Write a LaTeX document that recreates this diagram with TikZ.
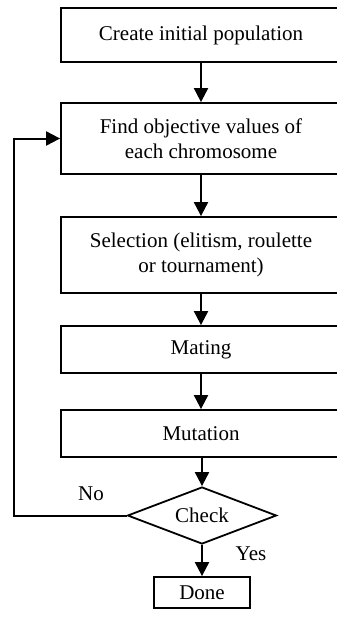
\documentclass[tikz,border=0pt]{standalone}
\usepackage{fontspec}
\setmainfont{Liberation Serif}
\usetikzlibrary{arrows.meta,shapes.geometric}
\tikzset{
  stepbox/.style={draw, line width=1.8pt, align=center, font=\fontsize{21}{25}\selectfont, inner sep=0pt, minimum width=280pt},
  check/.style={draw, diamond, line width=1.8pt, shape aspect=2.6, inner sep=0pt, minimum width=149pt, minimum height=57pt, font=\fontsize{21}{25}\selectfont},
  arr/.style={-{Triangle[length=14pt,width=14pt]}, line width=2pt},
  lbl/.style={font=\fontsize{21}{25}\selectfont},
}
\begin{document}
\begin{tikzpicture}[x=1pt,y=-1pt]
  \useasboundingbox (0,0) rectangle (337,619);
  \clip (0,0) rectangle (337,619);
  % process steps
  \node[stepbox, minimum height=54pt] (init) at (201,35) {Create initial population};
  \node[stepbox, minimum height=71pt] (eval) at (201,138.5) {Find objective values of\\each chromosome};
  \node[stepbox, minimum height=76pt] (sel) at (201,255) {Selection (elitism, roulette\\or tournament)};
  \node[stepbox, minimum height=47pt] (mate) at (201,349.5) {Mating};
  \node[stepbox, minimum height=47pt] (mut) at (201,433.5) {Mutation};
  \node[check] (chk) at (202,515.5) {Check};
  \node[stepbox, minimum width=96pt, minimum height=31pt] (done) at (202,592.5) {Done};
  \coordinate (loop) at (14,515.5);
  % arrows
  \draw[arr] (init) -- (eval);
  \draw[arr] (eval) -- (sel);
  \draw[arr] (sel) -- (mate);
  \draw[arr] (mate) -- (mut);
  \draw[arr] (mut.south -| chk.north) -- (chk);
  \draw[arr] (chk) -- (done);
  \draw[arr] (chk.west) -- (loop) |- (eval.west);
  \node[lbl] (no) at (91,494) {No};
  \node[lbl] (yes) at (251,554) {Yes};
\end{tikzpicture}
\end{document}
